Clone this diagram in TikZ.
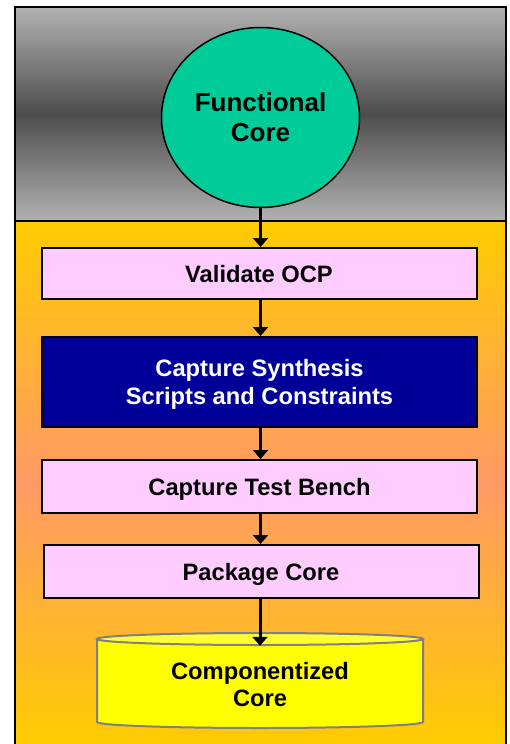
\documentclass[tikz,border=0pt]{standalone}
\usepackage{fontspec}
\setmainfont{Liberation Sans}
\usetikzlibrary{shapes.geometric,arrows.meta}
\definecolor{coregreen}{HTML}{00CC99}
\definecolor{boxpink}{HTML}{FFCCFF}
\definecolor{synthblue}{HTML}{000099}
\definecolor{bandgray}{HTML}{B2B2B2}
\definecolor{banddark}{HTML}{4D4D4D}
\definecolor{flowyellow}{HTML}{FFCC00}
\definecolor{flowsalmon}{HTML}{FF9966}
\definecolor{cylyellow}{HTML}{FFFF00}
\definecolor{cyltop}{HTML}{FFFF33}
\definecolor{cylrim}{HTML}{808080}
\begin{document}
\begin{tikzpicture} [x=1pt,y=-1pt,
    stepbox/.style={draw=black, line width=2pt, fill=boxpink, minimum width=435pt, inner sep=0pt,
        align=center, text height=17pt, text depth=0pt, font=\bfseries\fontsize{23.7}{28}\selectfont},
    flowarrow/.style={line width=3pt, -{Triangle[length=9pt,width=15pt]}}]
        \useasboundingbox (0,0) rectangle (510,744);
        \path[top color=bandgray, bottom color=bandgray, middle color=banddark] (15,7) rectangle (506,221);
        \path[top color=flowyellow, bottom color=flowyellow, middle color=flowsalmon] (15,221) rectangle (506,744);
        \draw[line width=2pt] (15,744) -- (15,7) -- (506,7) -- (506,744);
        \draw[line width=2pt] (15,221) -- (506,221);
        \node[ellipse, draw, line width=1.5pt, fill=coregreen, minimum width=198pt, minimum height=180pt, inner sep=0pt,
            align=center, text height=48.7pt, text depth=0pt, font=\bfseries\fontsize{26}{30}\selectfont]
            (core) at (260.5,117.5) {Functional\\Core};
        \node[stepbox, minimum height=51pt] (validate) at (259,273.5) {Validate OCP};
        \node[stepbox, minimum height=90pt, fill=synthblue, text=white, text height=45pt] (synth) at (259.5,382)
            {Capture Synthesis\\Scripts and Constraints};
        \node[stepbox, minimum height=53pt] (bench) at (259.5,486.5) {Capture Test Bench};
        \node[stepbox, minimum height=53pt] (pack) at (261,571.5) {Package Core};
        \path[fill=cylyellow, draw=cylrim, line width=2pt] (97,639) -- (97,722)
            arc[start angle=180, end angle=0, x radius=163, y radius=6] -- (423,639) -- cycle;
        \draw[fill=cyltop, draw=cylrim, line width=2pt] (260,639) ellipse[x radius=163, y radius=6];
        \node[minimum width=326pt, minimum height=76pt, inner sep=0pt, align=center, text height=44pt, text depth=0pt,
            font=\bfseries\fontsize{23.7}{27}\selectfont] (comp) at (260,684) {Componentized\\Core};
        \draw[flowarrow] (core.south) -- (core.south |- validate.north);
        \draw[flowarrow] (validate.south -| core.south) -- (core.south |- synth.north);
        \draw[flowarrow] (synth.south -| core.south) -- (core.south |- bench.north);
        \draw[flowarrow] (bench.south -| core.south) -- (core.south |- pack.north);
        \draw[flowarrow] (pack.south -| comp.north) -- (comp.north);
    \end{tikzpicture}
\end{document}
